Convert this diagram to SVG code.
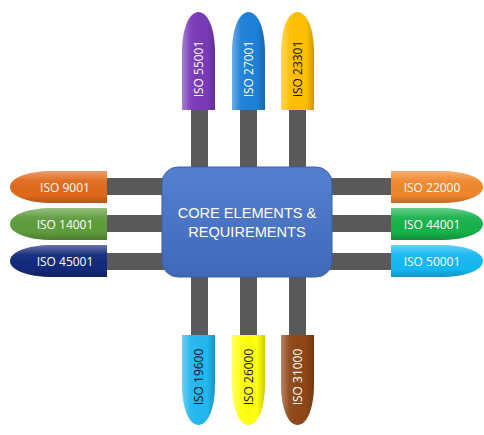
<svg xmlns="http://www.w3.org/2000/svg" width="484" height="435" viewBox="0 0 484 435">
<defs>
<style>
.stem{fill:#595959}
.lbl{font-family:"Open Sans","Liberation Sans",sans-serif;font-size:12px;text-anchor:middle;dominant-baseline:central}
.w{fill:#ffffff}.k{fill:#111111}
.core{font-family:"Liberation Sans",Arial,sans-serif;font-size:14.6px;fill:#ffffff;text-anchor:middle}
</style>
<linearGradient id="hv" x1="0" y1="0" x2="1" y2="0">
<stop offset="0" stop-color="#fff" stop-opacity="0.35"/>
<stop offset="0.25" stop-color="#fff" stop-opacity="0.05"/>
<stop offset="0.75" stop-color="#000" stop-opacity="0"/>
<stop offset="1" stop-color="#000" stop-opacity="0.2"/>
</linearGradient>
<linearGradient id="hh" x1="0" y1="0" x2="0" y2="1">
<stop offset="0" stop-color="#fff" stop-opacity="0.35"/>
<stop offset="0.3" stop-color="#fff" stop-opacity="0.05"/>
<stop offset="0.75" stop-color="#000" stop-opacity="0"/>
<stop offset="1" stop-color="#000" stop-opacity="0.2"/>
</linearGradient>
<linearGradient id="box" x1="0" y1="0" x2="0" y2="1">
<stop offset="0" stop-color="#5580d0"/>
<stop offset="1" stop-color="#3f68b8"/>
</linearGradient>
<path id="top" d="M0,98 V42 C0,14 8,0 16.5,0 C25,0 33,14 33,42 V98 Z"/>
<path id="bot" d="M0,0 V48 C0,76 8,90 16.5,90 C25,90 33,76 33,48 V0 Z"/>
<path id="lft" d="M97,0 H45 C14,0 0,8 0,16 C0,24 14,32 45,32 H97 Z"/>
<path id="rgt" d="M0,0 H47 C78,0 92,8 92,16 C92,24 78,32 47,32 H0 Z"/>
</defs>
<rect width="484" height="435" fill="#ffffff"/>
<g id="connectors">
<rect class="stem" x="191" y="108" width="17" height="62"/>
<rect class="stem" x="240" y="108" width="17" height="62"/>
<rect class="stem" x="289" y="108" width="17" height="62"/>
<rect class="stem" x="191" y="274" width="17" height="63"/>
<rect class="stem" x="240" y="274" width="17" height="63"/>
<rect class="stem" x="289" y="274" width="17" height="63"/>
<rect class="stem" x="105" y="178" width="60" height="17"/>
<rect class="stem" x="105" y="215" width="60" height="17"/>
<rect class="stem" x="105" y="253" width="60" height="17"/>
<rect class="stem" x="329" y="178" width="64" height="17"/>
<rect class="stem" x="329" y="215" width="64" height="17"/>
<rect class="stem" x="329" y="253" width="64" height="17"/>
</g>
<g id="core">
<rect x="162" y="167" width="170" height="110" rx="16" fill="url(#box)" stroke="#3a5fa8" stroke-width="1"/>
<text class="core" x="247" y="218">CORE ELEMENTS &amp;</text>
<text class="core" x="247" y="237">REQUIREMENTS</text>
</g>
<g id="iso55001" transform="translate(182,12)">
<use href="#top" fill="#7a3ab8"/><use href="#top" fill="url(#hv)"/>
<text class="lbl w" transform="translate(16.5,57) rotate(-90)">ISO 55001</text>
</g>
<g id="iso27001" transform="translate(232,12)">
<use href="#top" fill="#1d80d8"/><use href="#top" fill="url(#hv)"/>
<text class="lbl w" transform="translate(16.5,57) rotate(-90)">ISO 27001</text>
</g>
<g id="iso23301" transform="translate(281,12)">
<use href="#top" fill="#ffc000"/><use href="#top" fill="url(#hv)"/>
<text class="lbl k" transform="translate(16.5,57) rotate(-90)">ISO 23301</text>
</g>
<g id="iso19600" transform="translate(182,335)">
<use href="#bot" fill="#22b8f0"/><use href="#bot" fill="url(#hv)"/>
<text class="lbl k" transform="translate(16.5,42) rotate(-90)">ISO 19600</text>
</g>
<g id="iso26000" transform="translate(232,335)">
<use href="#bot" fill="#ffff10"/><use href="#bot" fill="url(#hv)"/>
<text class="lbl k" transform="translate(16.5,42) rotate(-90)">ISO 26000</text>
</g>
<g id="iso31000" transform="translate(281,335)">
<use href="#bot" fill="#8e4614"/><use href="#bot" fill="url(#hv)"/>
<text class="lbl w" transform="translate(16.5,42) rotate(-90)">ISO 31000</text>
</g>
<g id="iso9001" transform="translate(10,171)">
<use href="#lft" fill="#e0691c"/><use href="#lft" fill="url(#hh)"/>
<text class="lbl w" x="55" y="16">ISO 9001</text>
</g>
<g id="iso14001" transform="translate(10,208)">
<use href="#lft" fill="#5e9c3c"/><use href="#lft" fill="url(#hh)"/>
<text class="lbl w" x="55" y="16">ISO 14001</text>
</g>
<g id="iso45001" transform="translate(10,245)">
<use href="#lft" fill="#13297a"/><use href="#lft" fill="url(#hh)"/>
<text class="lbl w" x="55" y="16">ISO 45001</text>
</g>
<g id="iso22000" transform="translate(391,171)">
<use href="#rgt" fill="#f0862c"/><use href="#rgt" fill="url(#hh)"/>
<text class="lbl w" x="41" y="16">ISO 22000</text>
</g>
<g id="iso44001" transform="translate(391,208)">
<use href="#rgt" fill="#16b24a"/><use href="#rgt" fill="url(#hh)"/>
<text class="lbl w" x="41" y="16">ISO 44001</text>
</g>
<g id="iso50001" transform="translate(391,245)">
<use href="#rgt" fill="#14b8f2"/><use href="#rgt" fill="url(#hh)"/>
<text class="lbl w" x="41" y="16">ISO 50001</text>
</g>
</svg>
